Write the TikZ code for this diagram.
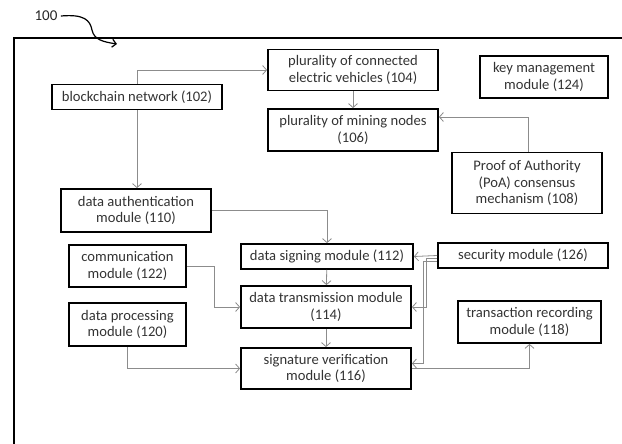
\documentclass[tikz,border=0pt]{standalone}
\usepackage{fontspec}
\setmainfont{Carlito}
\usetikzlibrary{arrows.meta}

\tikzset{
  blk/.style={draw, line width=1.8pt, align=center, inner sep=1pt,
    text=black!80, font=\fontsize{14.6}{16.8}\selectfont},
  link/.style={draw=black!45, line width=0.8pt,
    -{Straight Barb[length=4pt,width=9pt]}},
}

\begin{document}
\begin{tikzpicture}[x=1pt, y=-1pt]
	\useasboundingbox (0,0) rectangle (622,444);
	% outer frame, cut off at the right and bottom
	\draw[line width=2.2pt] (14,450) -- (14,38) -- (630,38);
	\node[font=\fontsize{15}{17}\selectfont, text=black!85] (lbl) at (46,16) {100};
	\coordinate (frm) at (117,44);
	\draw[line width=1.2pt, -{Straight Barb[length=4pt,width=8pt]}] (lbl.east)
		.. controls (84,14) and (90,20) .. (92,30)
		.. controls (94,40) and (104,42) .. (frm);

	% boxes
	\node[blk, minimum width=170pt, minimum height=25pt] (bc) at (137,97) {blockchain network (102)};
	\node[blk, minimum width=170pt, minimum height=41pt] (ev) at (353,70) {plurality of connected\\electric vehicles (104)};
	\node[blk, minimum width=170pt, minimum height=42pt] (mine) at (353,130) {plurality of mining nodes\\(106)};
	\node[blk, minimum width=128pt, minimum height=42pt] (key) at (544,77) {key management\\module (124)};
	\node[blk, minimum width=150pt, minimum height=61pt] (poa) at (527,183) {Proof of Authority\\(PoA) consensus\\mechanism (108)};
	\node[blk, minimum width=150pt, minimum height=43pt] (auth) at (136,210.5) {data authentication\\module (110)};
	\node[blk, minimum width=117pt, minimum height=42pt] (comm) at (127.5,266) {communication\\module (122)};
	\node[blk, minimum width=117pt, minimum height=43pt] (proc) at (127.5,324.5) {data processing\\module (120)};
	\node[blk, minimum width=172pt, minimum height=25pt] (sign) at (327,256.5) {data signing module (112)};
	\node[blk, minimum width=170pt, minimum height=42pt] (tx) at (326,307) {data transmission module\\(114)};
	\node[blk, minimum width=170pt, minimum height=41pt] (ver) at (326,368.5) {signature verification\\module (116)};
	\node[blk, minimum width=170pt, minimum height=25pt] (sec) at (523,255.5) {security module (126)};
	\node[blk, minimum width=143pt, minimum height=42pt] (rec) at (529.5,322) {transaction recording\\module (118)};

	% connectors
	\draw[link] (bc) |- (ev);
	\draw[link] (bc.south) -- (bc.south |- auth.north);
	\draw[link] (ev) -- (mine);
	\draw[link] ([xshift=1pt]poa.north) |- ([yshift=13pt]mine.east);
	\draw[link] (auth) -| (sign);
	\draw[link] (sign) -- (tx);
	\draw[link] (tx) -- (ver);
	\draw[link] (comm.east) -- ++(27,0) |- (tx.west);
	\draw[link] (proc.south) |- (ver.west);
	\draw[link] (sec.west) -- (sign.east);
	\draw[link] ([yshift=-3pt]sec.west) -- ++(-11,0) |- (tx.east);
	\draw[link] ([yshift=-6pt]sec.west) -- ++(-14,0) |- ([yshift=5pt]ver.east);
	\draw[link] (ver.east) -| (rec.south);
\end{tikzpicture}
\end{document}
